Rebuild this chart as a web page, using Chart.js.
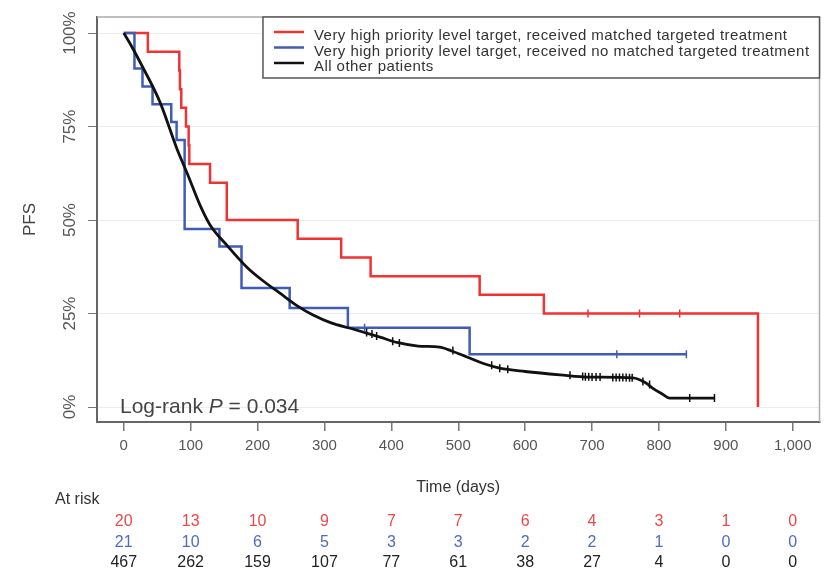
<!DOCTYPE html>
<html>
<head>
<meta charset="utf-8">
<script src="https://cdn.jsdelivr.net/npm/chart.js@4.4.0/dist/chart.umd.min.js"></script>
<style>
  html, body { margin: 0; padding: 0; background: #fff; }
</style>
</head>
<body>
<canvas id="pfs" width="825" height="580"></canvas>
<script>
// axis ticks
const xTicks = [0, 100, 200, 300, 400, 500, 600, 700, 800, 900, 1000];
const yTicks = [0, 25, 50, 75, 100];

// red: very high priority target, matched treatment (step curve)
const redDays = [0, 36, 83, 84, 86, 93, 97, 98, 129, 154, 260, 325, 369, 532, 628, 948, 948];
const redPfs  = [100, 95, 90, 85, 80, 75, 70, 65, 60, 50, 45, 40, 35, 30, 25, 25, 0];
const redCensorDays = [694, 771, 831];
const redCensorPfs  = [25, 25, 25];

// blue: very high priority target, no matched treatment (step curve)
const blueDays = [0, 16, 28, 43, 71, 79, 91, 143, 176, 248, 335, 517, 841];
const bluePfs  = [100, 90.5, 85.7, 81.0, 76.2, 71.4, 47.6, 42.9, 31.8, 26.5, 21.2, 14.1, 14.1];
const blueCensorDays = [360, 737, 841];
const blueCensorPfs  = [21.2, 14.1, 14.1];

// black: all other patients (dense curve)
const blackDays = [0, 10, 28, 54, 79, 96, 114, 129, 154, 184, 210, 233, 260, 283, 310, 340,
                   383, 410, 440, 472, 490, 513, 540, 562, 600, 652, 697, 761, 780, 791, 805, 816, 883];
const blackPfs  = [100, 97, 91, 81.6, 69.3, 62, 54, 48.7, 43.3, 37.4, 33.5, 30.5, 27, 24.6, 22.5, 21,
                   18.7, 17.2, 16.3, 16, 15, 13.4, 11.5, 10.4, 9.5, 8.6, 8, 7.8, 6.5, 5, 3.5, 2.4, 2.4];
const blackCensorDays = [363, 371, 378, 402, 412, 492, 550, 562, 574, 667, 686, 690, 695, 700, 706, 712,
                         731, 736, 741, 746, 751, 756, 760, 776, 786, 846, 883];
const blackCensorPfs  = [19.9, 19.5, 19.0, 17.6, 17.1, 15.1, 11.2, 10.4, 10.1, 8.5, 8.2, 8.1, 8.1, 8.0, 8.0, 8.0,
                         7.9, 7.9, 7.9, 7.9, 7.9, 7.8, 7.8, 6.8, 6.0, 2.4, 2.4];

// numbers at risk at each x tick
const riskRed   = [20, 13, 10, 9, 7, 7, 6, 4, 3, 1, 0];
const riskBlue  = [21, 10, 6, 5, 3, 3, 2, 2, 1, 0, 0];
const riskBlack = [467, 262, 159, 107, 77, 61, 38, 27, 4, 0, 0];

const seriesLabels = [
  'Very high priority level target, received matched targeted treatment',
  'Very high priority level target, received no matched targeted treatment',
  'All other patients'
];
const RED = '#f03232', BLUE = '#3f5cb6', BLACK = '#111111';

const pts = (xs, ys) => xs.map((x, i) => ({ x: x, y: ys[i] }));

Chart.defaults.font.family = "'Liberation Sans', Arial, sans-serif";
Chart.defaults.color = '#555';

const extras = {
  id: 'kmExtras',
  beforeDatasetsDraw(chart) {
    const { ctx, chartArea: a } = chart;
    ctx.save();
    ctx.strokeStyle = '#aaa';
    ctx.lineWidth = 1.5;
    ctx.beginPath();
    ctx.moveTo(a.left, a.top);
    ctx.lineTo(a.right, a.top);
    ctx.lineTo(a.right, a.bottom);
    ctx.stroke();
    ctx.restore();
  },
  afterDraw(chart) {
    const { ctx, chartArea: a } = chart;
    const xs = chart.scales.x;
    ctx.save();

    // legend box in top right corner
    ctx.font = "15px 'Liberation Sans', Arial, sans-serif";
    ctx.letterSpacing = '0.45px';
    const tw = Math.max(...seriesLabels.map(t => ctx.measureText(t).width));
    const textX = a.right - 10 - tw;
    const bx = textX - 51, by = a.top, bw = a.right - bx, bh = 61;
    ctx.fillStyle = '#fff';
    ctx.fillRect(bx, by, bw, bh);
    ctx.strokeStyle = '#555';
    ctx.lineWidth = 1.5;
    ctx.strokeRect(bx, by, bw, bh);
    const cols = [RED, BLUE, BLACK];
    ctx.textBaseline = 'alphabetic';
    ctx.textAlign = 'left';
    seriesLabels.forEach((t, i) => {
      const y = by + 15 + i * 15.5;
      ctx.strokeStyle = cols[i];
      ctx.lineWidth = 2.5;
      ctx.beginPath();
      ctx.moveTo(bx + 11, y);
      ctx.lineTo(bx + 41, y);
      ctx.stroke();
      ctx.fillStyle = '#333';
      ctx.fillText(t, textX, y + 8);
    });
    ctx.letterSpacing = '0px';

    // log-rank p value
    ctx.fillStyle = '#444';
    let x = a.left + 23;
    const yb = a.bottom - 9;
    const parts = [['Log-rank ', 'normal'], ['P', 'italic'], [' = 0.034', 'normal']];
    parts.forEach(([t, st]) => {
      ctx.font = st + " 21px 'Liberation Sans', Arial, sans-serif";
      ctx.fillText(t, x, yb);
      x += ctx.measureText(t).width;
    });

    // at risk table
    ctx.font = "16px 'Liberation Sans', Arial, sans-serif";
    ctx.textBaseline = 'middle';
    ctx.fillStyle = '#333';
    ctx.fillText('At risk', 55, 500);
    ctx.textAlign = 'center';
    const rows = [[riskRed, '#e8494b', 522], [riskBlue, '#4f6cc0', 543], [riskBlack, '#222', 563]];
    rows.forEach(([vals, col, y]) => {
      ctx.fillStyle = col;
      vals.forEach((v, i) => ctx.fillText(String(v), xs.getPixelForValue(xTicks[i]), y));
    });
    ctx.restore();
  }
};

const censor = (xs, ys, col) => ({
  type: 'scatter',
  data: pts(xs, ys),
  showLine: false,
  pointStyle: 'line',
  rotation: 90,
  pointRadius: 4,
  pointHoverRadius: 4,
  borderColor: col,
  borderWidth: 1.5
});

new Chart(document.getElementById('pfs'), {
  type: 'line',
  data: {
    datasets: [
      censor(redCensorDays, redCensorPfs, RED),
      censor(blueCensorDays, blueCensorPfs, BLUE),
      censor(blackCensorDays, blackCensorPfs, BLACK),
      {
        label: seriesLabels[2],
        data: pts(blackDays, blackPfs),
        borderColor: BLACK,
        borderWidth: 2.8,
        pointRadius: 0,
        cubicInterpolationMode: 'monotone'
      },
      {
        label: seriesLabels[1],
        data: pts(blueDays, bluePfs),
        borderColor: BLUE,
        borderWidth: 2.5,
        pointRadius: 0,
        stepped: 'before'
      },
      {
        label: seriesLabels[0],
        data: pts(redDays, redPfs),
        borderColor: RED,
        borderWidth: 2.5,
        pointRadius: 0,
        stepped: 'before'
      }
    ]
  },
  options: {
    responsive: false,
    animation: false,
    events: [],
    layout: { padding: { top: 17, right: 5, left: 0, bottom: 0 } },
    plugins: {
      legend: { display: false },
      tooltip: { enabled: false }
    },
    scales: {
      x: {
        type: 'linear',
        min: -40,
        max: 1040,
        afterBuildTicks: s => { s.ticks = xTicks.map(v => ({ value: v })); },
        afterFit: s => { s.height = 158; },
        border: { display: true, color: '#666', width: 2 },
        grid: { drawOnChartArea: false, tickLength: 9, tickColor: '#777', lineWidth: 1.5 },
        ticks: {
          padding: 6,
          font: { size: 15 },
          color: '#555',
          maxRotation: 0,
          callback: v => v.toLocaleString('en-US')
        },
        title: {
          display: true,
          text: 'Time (days)',
          font: { size: 16 },
          color: '#333',
          padding: { top: 0, bottom: 83 }
        }
      },
      y: {
        type: 'linear',
        min: -4,
        max: 104.3,
        afterBuildTicks: s => { s.ticks = yTicks.map(v => ({ value: v })); },
        afterFit: s => { s.width = 97; },
        border: { display: true, color: '#666', width: 2 },
        grid: { color: '#ececec', lineWidth: 1, tickLength: 9, tickColor: '#777' },
        ticks: {
          minRotation: 90,
          maxRotation: 90,
          crossAlign: 'center',
          padding: -4,
          font: { size: 17 },
          color: '#555',
          callback: v => v + '%'
        },
        title: {
          display: true,
          text: 'PFS',
          font: { size: 17 },
          color: '#444',
          padding: { top: 20 }
        }
      }
    }
  },
  plugins: [extras]
});
</script>
</body>
</html>
